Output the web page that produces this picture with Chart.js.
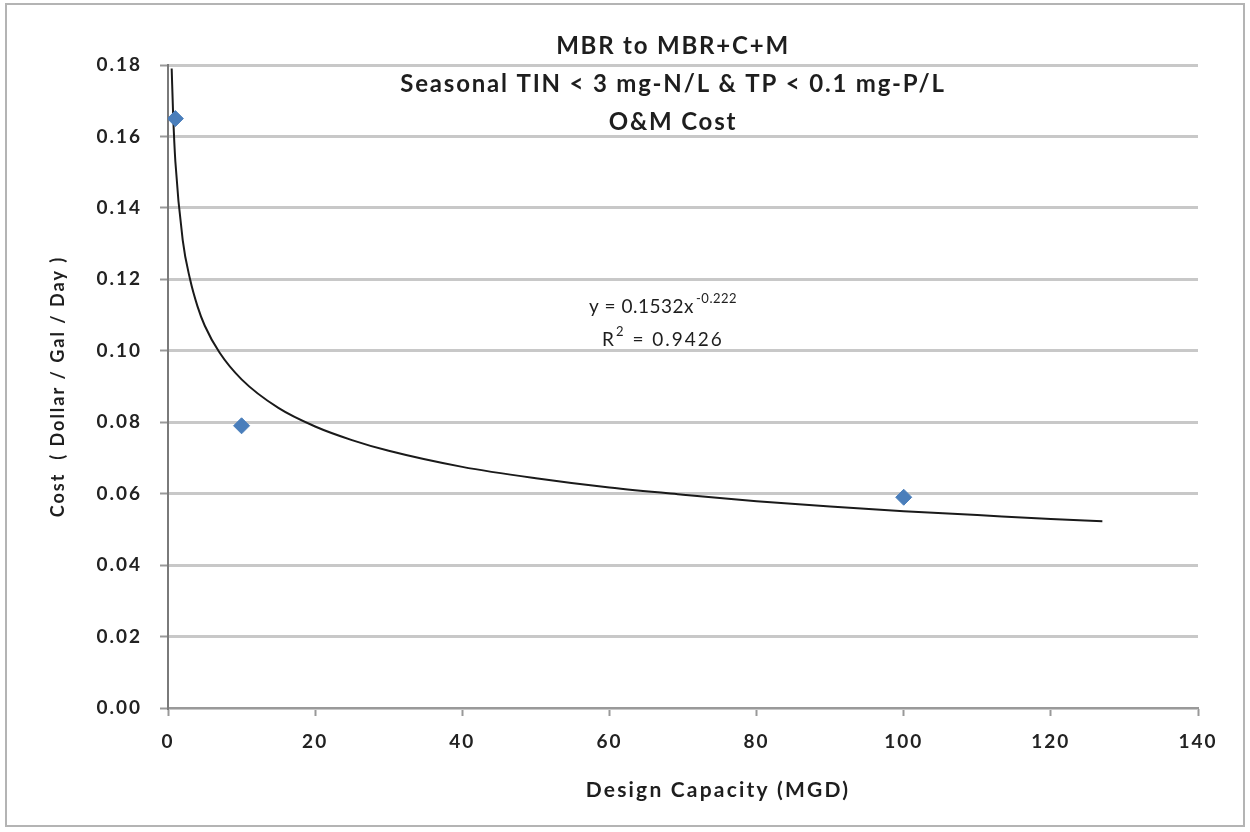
<!DOCTYPE html>
<html>
<head>
<meta charset="utf-8">
<script src="https://cdn.jsdelivr.net/npm/chart.js@4"></script>
<style>
body { margin: 0; background: #fff; }
</style>
</head>
<body>
<canvas id="costChart" width="1250" height="832"></canvas>
<script>
// measured O&M cost points
const capacity = [1, 10, 100];
const cost = [0.165, 0.079, 0.059];

// power trendline
const trendX = [0.5, 0.7, 1, 2, 3, 4, 5, 7, 10, 15, 20, 25, 30, 40, 50, 60, 70, 80, 90, 100, 110, 120, 127];
const trendY = [0.179, 0.166, 0.153, 0.131, 0.120, 0.1125, 0.107, 0.0995, 0.092, 0.084, 0.0788, 0.075, 0.072, 0.0675, 0.0643, 0.0617, 0.0597, 0.0579, 0.0564, 0.0551, 0.054, 0.0529, 0.0523];

const titleLines = ['MBR to MBR+C+M', 'Seasonal TIN < 3 mg-N/L & TP < 0.1 mg-P/L', 'O&M Cost'];
const equation = 'y = 0.1532x';
const exponent = '-0.222';
const rSquared = '0.9426';
const xTitle = 'Design Capacity (MGD)';
const yTitle = 'Cost  ( Dollar / Gal / Day )';

const FONT = 'Lato';

const textPlugin = {
    id: 'textPlugin',
    beforeDraw(chart) {
        const c = chart.ctx;
        c.save();
        c.fillStyle = '#fff';
        c.fillRect(0, 0, chart.width, chart.height);
        c.strokeStyle = '#b4b4b4';
        c.lineWidth = 2;
        c.strokeRect(6, 4, 1238, 822);
        c.restore();
        // the reference text is loosely spaced, ticks and axis titles too
        c.letterSpacing = '2px';
    },
    afterDraw(chart) {
        const c = chart.ctx;
        c.save();
        c.fillStyle = '#1e1e1e';
        c.textBaseline = 'middle';
        c.textAlign = 'center';

        c.font = 'bold 24px ' + FONT;
        c.letterSpacing = '1.8px';
        titleLines.forEach((t, i) => c.fillText(t, 673, 46 + i * 38));

        // trendline equation
        c.letterSpacing = '0.5px';
        c.textAlign = 'left';
        c.font = '19px ' + FONT;
        const w1 = c.measureText(equation).width;
        c.font = '13px ' + FONT;
        const w2 = c.measureText(exponent).width;
        let x0 = 663 - (w1 + w2 + 2) / 2;
        c.font = '19px ' + FONT;
        c.fillText(equation, x0, 307);
        c.font = '13px ' + FONT;
        c.fillText(exponent, x0 + w1 + 2, 299);

        c.letterSpacing = '2px';
        c.font = '19px ' + FONT;
        const a = 'R', b = ' = ' + rSquared;
        const wa = c.measureText(a).width, wb = c.measureText(b).width;
        c.font = '13px ' + FONT;
        const ws = c.measureText('2').width;
        x0 = 663 - (wa + ws + wb) / 2;
        c.font = '19px ' + FONT;
        c.fillText(a, x0, 340);
        c.fillText(b, x0 + wa + ws, 340);
        c.font = '13px ' + FONT;
        c.fillText('2', x0 + wa, 332);

        // x axis title
        c.textAlign = 'center';
        c.letterSpacing = '2.2px';
        c.font = 'bold 21px ' + FONT;
        c.fillText(xTitle, 718, 790);
        c.restore();
    }
};

const data = {
    datasets: [
        {
            label: 'O&M Cost',
            data: capacity.map((x, i) => ({ x: x, y: cost[i] })),
            pointStyle: 'rectRot',
            pointRadius: 8,
            backgroundColor: '#4a7ebb',
            borderColor: '#4a7ebb',
            order: 0
        },
        {
            label: 'Power trendline',
            type: 'line',
            data: trendX.map((x, i) => ({ x: x, y: trendY[i] })),
            borderColor: '#1a1a1a',
            borderWidth: 2,
            pointRadius: 0,
            cubicInterpolationMode: 'monotone',
            fill: false,
            order: 1
        }
    ]
};

const tickFont = { family: FONT, size: 19, weight: 'bold' };

const config = {
    type: 'scatter',
    data: data,
    options: {
        responsive: false,
        animation: false,
        layout: { padding: { top: 65, right: 52, left: 0, bottom: 0 } },
        plugins: {
            legend: { display: false },
            tooltip: { enabled: false },
            title: { display: false }
        },
        scales: {
            x: {
                type: 'linear',
                min: 0,
                max: 140,
                ticks: { stepSize: 20, color: '#222', font: tickFont, padding: 14 },
                grid: { drawOnChartArea: false, tickLength: 8, tickColor: '#999', tickWidth: 2 },
                border: { color: '#999', width: 2 },
                afterFit: (s) => { s.height = 124; }
            },
            y: {
                min: 0,
                max: 0.18,
                ticks: {
                    stepSize: 0.02,
                    color: '#222',
                    font: tickFont,
                    padding: 18,
                    callback: (v) => v.toFixed(2)
                },
                grid: { color: '#c8c8c8', lineWidth: 3, tickLength: 8, tickColor: '#999', tickWidth: 2 },
                border: { color: '#7a7a7a', width: 2 },
                title: {
                    display: true,
                    text: yTitle,
                    color: '#1e1e1e',
                    font: { family: FONT, size: 18, weight: 'bold' },
                    padding: { top: 47, bottom: 0 }
                },
                afterFit: (s) => { s.width = 168; }
            }
        }
    },
    plugins: [textPlugin]
};

const ctx = document.getElementById('costChart');
new Chart(ctx, config);
</script>
</body>
</html>
